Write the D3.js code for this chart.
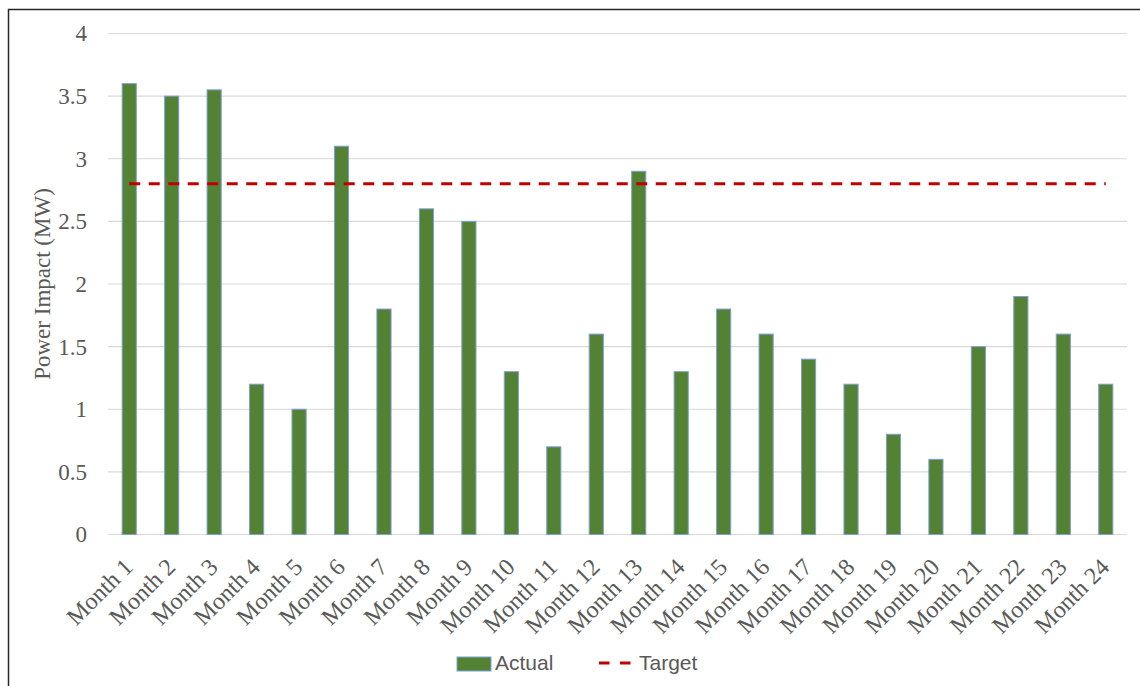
<!DOCTYPE html>
<html>
<head>
<meta charset="utf-8">
<script src="https://cdn.jsdelivr.net/npm/d3@7"></script>
<style>
  html, body { margin: 0; padding: 0; background: #fff; }
  svg { display: block; }
</style>
</head>
<body>
<svg id="chart" width="1140" height="686"></svg>
<script>
// Monthly power impact vs. target
const months = ["Month 1","Month 2","Month 3","Month 4","Month 5","Month 6","Month 7","Month 8",
  "Month 9","Month 10","Month 11","Month 12","Month 13","Month 14","Month 15","Month 16",
  "Month 17","Month 18","Month 19","Month 20","Month 21","Month 22","Month 23","Month 24"];
const actual = [3.6, 3.5, 3.55, 1.2, 1.0, 3.1, 1.8, 2.6, 2.5, 1.3, 0.7, 1.6,
  2.9, 1.3, 1.8, 1.6, 1.4, 1.2, 0.8, 0.6, 1.5, 1.9, 1.6, 1.2];
const target = 2.8;
const yTicks = [0, 0.5, 1, 1.5, 2, 2.5, 3, 3.5, 4];
const yTitle = "Power Impact (MW)";
const legendLabels = ["Actual", "Target"];

const svg = d3.select("#chart");
const plotLeft = 108, plotRight = 1127, plotTop = 33.5, plotBottom = 534.5;
const grey = "#595959";
const serif = "'Liberation Serif', 'Times New Roman', serif";
const sans = "'Liberation Sans', Arial, sans-serif";

// chart frame
svg.append("rect")
  .attr("x", 8.5).attr("y", 9.5)
  .attr("width", 1200).attr("height", 800)
  .attr("fill", "none").attr("stroke", "#262626").attr("stroke-width", 1.5);

const x = d3.scaleBand().domain(months).range([plotLeft, plotRight])
  .paddingInner(2 / 3).paddingOuter(1 / 3);
const y = d3.scaleLinear().domain([0, 4]).range([plotBottom, plotTop]);

// gridlines
svg.append("g").selectAll("line").data(yTicks).join("line")
  .attr("x1", plotLeft).attr("x2", plotRight)
  .attr("y1", d => y(d)).attr("y2", d => y(d))
  .attr("stroke", "#d9d9d9").attr("stroke-width", 1.2);

// y axis labels
const yAxis = d3.axisLeft(y).tickValues(yTicks).tickSize(0).tickPadding(0)
  .tickFormat(d3.format("~g"));
const gy = svg.append("g").attr("transform", `translate(87,0)`).call(yAxis);
gy.select(".domain").remove();
gy.selectAll("text")
  .attr("font-family", serif).attr("font-size", 23).attr("fill", grey);

// y axis title
svg.append("text")
  .attr("transform", `translate(50,${(plotTop + plotBottom) / 2}) rotate(-90)`)
  .attr("text-anchor", "middle")
  .attr("font-family", serif).attr("font-size", 23).attr("fill", grey)
  .text(yTitle);

// bars
svg.append("g").selectAll("rect").data(actual).join("rect")
  .attr("x", (d, i) => x(months[i]))
  .attr("y", d => y(d))
  .attr("width", x.bandwidth())
  .attr("height", d => y(0) - y(d))
  .attr("fill", "#548235")
  .attr("stroke", "#7f9fd6").attr("stroke-width", 1);

// target line across the months
const half = x.bandwidth() / 2;
svg.append("line")
  .attr("x1", x(months[0]) + half).attr("x2", x(months[months.length - 1]) + half)
  .attr("y1", y(target)).attr("y2", y(target))
  .attr("stroke", "#c00000").attr("stroke-width", 3)
  .attr("stroke-dasharray", "11 8.5");

// x axis labels, rotated
const xAxis = d3.axisBottom(x).tickSize(0).tickPadding(0);
const gx = svg.append("g").attr("transform", `translate(0,${plotBottom})`).call(xAxis);
gx.select(".domain").remove();
gx.selectAll(".tick text")
  .attr("font-family", serif).attr("font-size", 24).attr("fill", grey)
  .attr("text-anchor", "end")
  .attr("dy", 0)
  .attr("transform", "translate(5,34) rotate(-45)");

// legend
const lg = svg.append("g");
lg.append("rect")
  .attr("x", 457).attr("y", 657).attr("width", 34).attr("height", 14)
  .attr("fill", "#548235").attr("stroke", "#7f9fd6").attr("stroke-width", 1);
lg.append("text")
  .attr("x", 495).attr("y", 670)
  .attr("font-family", sans).attr("font-size", 21).attr("fill", grey)
  .text(legendLabels[0]);
lg.append("line")
  .attr("x1", 599).attr("x2", 631).attr("y1", 663).attr("y2", 663)
  .attr("stroke", "#c00000").attr("stroke-width", 3)
  .attr("stroke-dasharray", "10.5 10.5");
lg.append("text")
  .attr("x", 639).attr("y", 670)
  .attr("font-family", sans).attr("font-size", 21).attr("fill", grey)
  .text(legendLabels[1]);
</script>
</body>
</html>
